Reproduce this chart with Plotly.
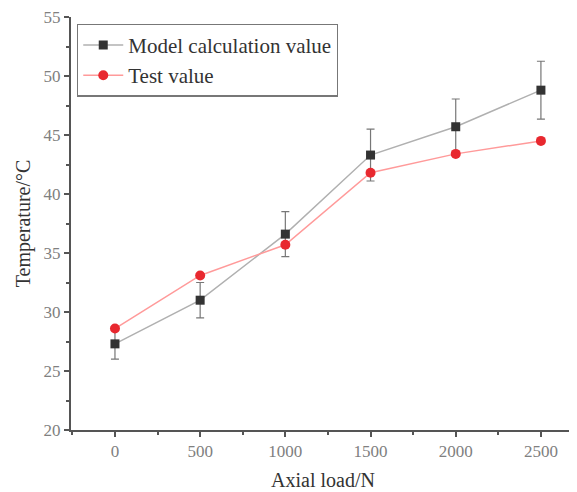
import plotly.graph_objects as go

loads = [0, 500, 1000, 1500, 2000, 2500]
model_vals = [27.3, 31.0, 36.6, 43.3, 45.7, 48.8]
model_err = [1.3, 1.5, 1.9, 2.2, 2.35, 2.45]
test_vals = [28.6, 33.1, 35.7, 41.8, 43.4, 44.5]
x_ticks = [0, 500, 1000, 1500, 2000, 2500]
y_ticks = [20, 25, 30, 35, 40, 45, 50, 55]

font_family = "Liberation Serif, Times New Roman, serif"

fig = go.Figure()
fig.add_trace(go.Scatter(
    x=loads, y=model_vals, mode="lines+markers", name="Model calculation value",
    line=dict(color="#b0b0b0", width=1.5),
    marker=dict(symbol="square", size=9, color="#333333"),
    error_y=dict(type="data", array=model_err, visible=True, color="#777777",
                 thickness=1.2, width=4),
))
fig.add_trace(go.Scatter(
    x=loads, y=test_vals, mode="lines+markers", name="Test value",
    line=dict(color="#ff9a9a", width=1.5),
    marker=dict(symbol="circle", size=10, color="#e8282f"),
))

axis_common = dict(
    showline=True, linecolor="#555555", linewidth=2,
    ticks="outside", ticklen=5, tickwidth=1.5, tickcolor="#555555",
    showgrid=False, zeroline=False, automargin=False,
    ticklabeloverflow="allow",
    tickfont=dict(family=font_family, size=17, color="#808080"),
    title_font=dict(family=font_family, size=20, color="#333333"),
)

fig.update_layout(
    width=569, height=484,
    margin=dict(l=63, r=2, t=9, b=62),
    paper_bgcolor="white", plot_bgcolor="white",
    font=dict(family=font_family),
    showlegend=True,
    legend=dict(
        x=0.012, y=0.984, xanchor="left", yanchor="top",
        bordercolor="#777777", borderwidth=1.2, bgcolor="white",
        font=dict(family=font_family, size=21, color="#333333"),
        tracegroupgap=0, itemwidth=40,
    ),
    xaxis=dict(range=[-258, 2700], tickvals=x_ticks, title=dict(text="Axial load/N", standoff=13),
               minor=dict(ticks="outside", ticklen=3, tickcolor="#555555", dtick=250, tick0=0),
               **axis_common),
    yaxis=dict(range=[20, 55], tickvals=y_ticks, title=dict(text="Temperature/°C", standoff=8),
               minor=dict(ticks="outside", ticklen=3, tickcolor="#555555", dtick=2.5, tick0=20),
               **axis_common),
)

fig.write_html("out.html")
